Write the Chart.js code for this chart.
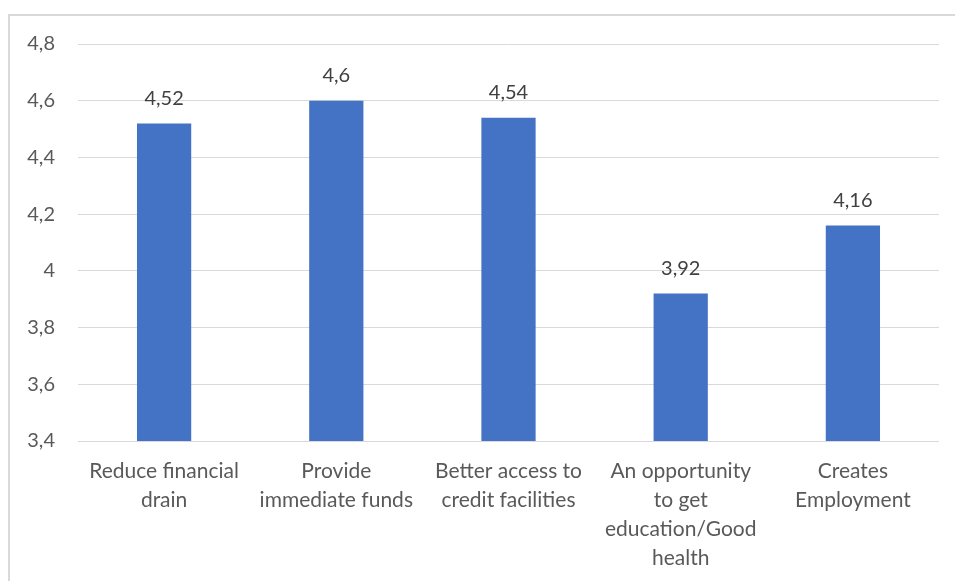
<!DOCTYPE html>
<html lang="en">
<head>
    <meta charset="UTF-8">
    <title>Perceived benefits - mean scores</title>
    <script src="https://cdn.jsdelivr.net/npm/chart.js@4.4.0/dist/chart.umd.min.js"></script>
    <style>
        * {
            margin: 0;
            padding: 0;
            box-sizing: border-box;
        }

        body {
            background: #ffffff;
            width: 955px;
            height: 581px;
            overflow: hidden;
            position: relative;
        }

        .frame {
            position: absolute;
            left: 8px;
            top: 14px;
            width: 1000px;
            height: 700px;
            border-left: 2px solid #d9d9d9;
            border-top: 2px solid #d9d9d9;
        }

        #benefitChart {
            position: absolute;
            left: 0;
            top: 0;
        }
    </style>
</head>
<body>
    <div class="frame"></div>
    <canvas id="benefitChart" width="955" height="581"></canvas>

    <script>
        // Categories (wrapped the way they appear under the axis)
        const categories = [
            ['Reduce financial', 'drain'],
            ['Provide', 'immediate funds'],
            ['Better access to', 'credit facilities'],
            ['An opportunity', 'to get', 'education/Good', 'health'],
            ['Creates', 'Employment']
        ];

        // Mean scores
        const scores = [4.52, 4.6, 4.54, 3.92, 4.16];

        // Value axis range
        const yMin = 3.4;
        const yMax = 4.8;
        const yStep = 0.2;

        const fontFamily = "Lato, 'Open Sans', sans-serif";
        const textColor = '#595959';

        const fmt = v => String(Math.round(v * 100) / 100).replace('.', ',');

        // Value labels above each bar
        const valueLabels = {
            id: 'valueLabels',
            afterDatasetsDraw(chart) {
                const ctx = chart.ctx;
                const meta = chart.getDatasetMeta(0);
                ctx.save();
                ctx.font = '20px ' + fontFamily;
                ctx.fillStyle = '#404040';
                ctx.textAlign = 'center';
                ctx.textBaseline = 'middle';
                meta.data.forEach((bar, i) => {
                    const p = bar.getProps(['x', 'y'], true);
                    ctx.fillText(fmt(scores[i]), p.x, p.y - 25);
                });
                ctx.restore();
            }
        };

        const ctx = document.getElementById('benefitChart').getContext('2d');
        new Chart(ctx, {
            type: 'bar',
            data: {
                labels: categories,
                datasets: [{
                    data: scores,
                    backgroundColor: '#4472c4',
                    categoryPercentage: 1,
                    barPercentage: 0.315
                }]
            },
            options: {
                responsive: false,
                animation: false,
                layout: {
                    padding: { top: 44, right: 16, left: 0, bottom: 0 }
                },
                plugins: {
                    legend: { display: false },
                    tooltip: { enabled: false }
                },
                scales: {
                    x: {
                        grid: { display: false, drawTicks: false },
                        border: { display: false },
                        ticks: {
                            color: textColor,
                            font: { family: fontFamily, size: 21, lineHeight: 1.38 },
                            maxRotation: 0,
                            autoSkip: false,
                            padding: 16
                        },
                        afterFit(scale) { scale.height = 140; }
                    },
                    y: {
                        min: yMin,
                        max: yMax,
                        grid: { color: '#d9d9d9', lineWidth: 1, drawTicks: false },
                        border: { display: false },
                        ticks: {
                            stepSize: yStep,
                            color: textColor,
                            font: { family: fontFamily, size: 20 },
                            padding: 23,
                            callback: v => fmt(v)
                        },
                        afterFit(scale) { scale.width = 78; }
                    }
                }
            },
            plugins: [valueLabels]
        });
    </script>
</body>
</html>
